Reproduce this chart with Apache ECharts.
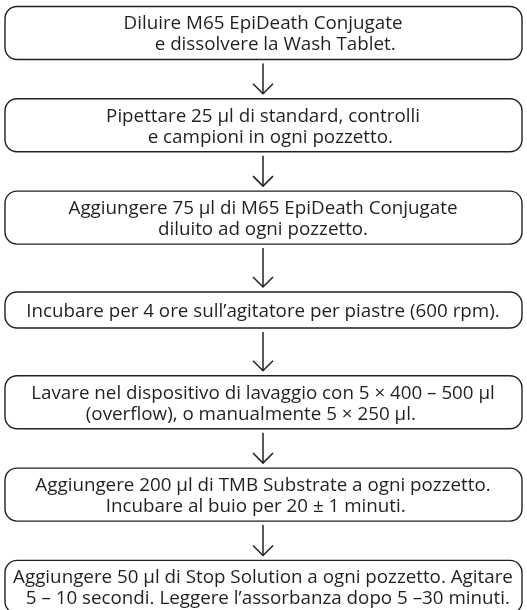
<!DOCTYPE html>
<html><head><meta charset="utf-8">
<script src="https://cdn.jsdelivr.net/npm/echarts@6/dist/echarts.min.js"></script>
<style>html,body{margin:0;padding:0;background:#fff}#c{width:527px;height:610px}</style>
</head><body><div id="c"></div>
<script>
// Flowchart steps (index = order)
const steps = [0, 1, 2, 3, 4, 5, 6];
const stepLine1 = [
  "Diluire M65 EpiDeath Conjugate",
  "Pipettare 25 µl di standard, controlli",
  "Aggiungere 75 µl di M65 EpiDeath Conjugate",
  "Incubare per 4 ore sull’agitatore per piastre (600 rpm).",
  "Lavare nel dispositivo di lavaggio con 5 × 400 – 500 µl",
  "Aggiungere 200 µl di TMB Substrate a ogni pozzetto.",
  "Aggiungere 50 µl di Stop Solution a ogni pozzetto. Agitare"
];
const stepLine2 = [
  "\u00a0\u00a0\u00a0\u00a0\u00a0e dissolvere la Wash Tablet.",
  "\u00a0\u00a0\u00a0e campioni in ogni pozzetto.",
  "diluito ad ogni pozzetto.",
  "",
  "(overflow), o manualmente 5 × 250 µl.\u00a0\u00a0\u00a0\u00a0\u00a0",
  "Incubare al buio per 20 ± 1 minuti.\u00a0\u00a0\u00a0",
  "\u00a0\u00a05 – 10 secondi. Leggere l’assorbanza dopo 5 –30 minuti."
];

const FONT = '18.8px "Open Sans"';
const LINE_H = 21;
const INK = '#231f20';
function boxH(i) { const n = stepLine2[i] ? 2 : 1; return 19 + 17 * n; }

const chart = echarts.init(document.getElementById('c'), null, {renderer: 'canvas'});
chart.setOption({
  animation: false,
  grid: {left: 0, right: 0, top: 0, bottom: 0},
  xAxis: {type: 'value', min: 0, max: 527, show: false},
  yAxis: {type: 'value', inverse: true, min: -0.357, max: 6.25, show: false},
  series: [{
    type: 'custom',
    data: steps.map(s => [263, s]),
    clip: false,
    renderItem: function (params, api) {
      const i = api.value(1);
      const c = api.coord([api.value(0), i]);
      const cs = params.coordSys;
      const h = boxH(i);
      const left = cs.x + 5, right = cs.x + cs.width - 5;
      const children = [{
        type: 'rect',
        shape: {x: left, y: c[1] - h / 2, width: right - left, height: h, r: 12},
        style: {fill: '#fff', stroke: INK, lineWidth: 1.4}
      }];
      const lines = stepLine2[i] ? [stepLine1[i], stepLine2[i]] : [stepLine1[i]];
      lines.forEach((t, k) => {
        const y = c[1] + 1.5 + (k - (lines.length - 1) / 2) * LINE_H;
        children.push({
          type: 'text',
          style: {text: t, x: c[0], y: y, align: 'center', verticalAlign: 'middle',
                  font: FONT, fill: INK}
        });
      });
      if (i < steps.length - 1) {
        const n = api.coord([api.value(0), i + 1]);
        const y0 = c[1] + h / 2 + 4;
        const tip = n[1] - boxH(i + 1) / 2 - 5;
        children.push({
          type: 'line', shape: {x1: c[0], y1: y0, x2: c[0], y2: tip},
          style: {stroke: INK, lineWidth: 1.5}
        });
        children.push({
          type: 'polyline', shape: {points: [[c[0] - 10, tip - 10], [c[0], tip], [c[0] + 10, tip - 10]]},
          style: {stroke: INK, lineWidth: 1.5, fill: 'none'}
        });
      }
      return {type: 'group', children: children};
    }
  }]
});
</script></body></html>
